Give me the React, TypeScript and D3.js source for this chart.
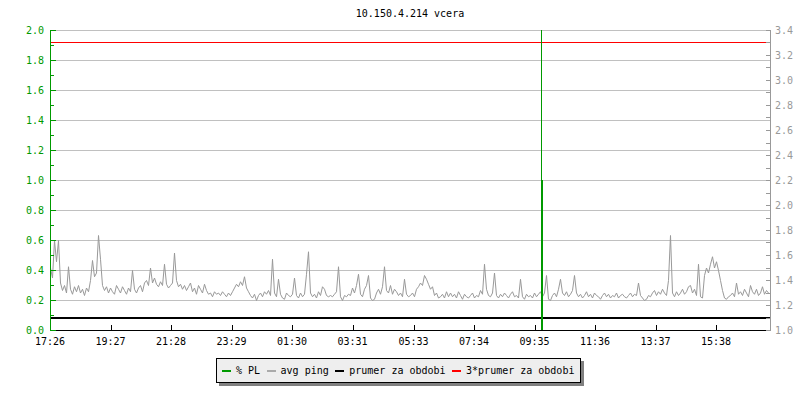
import React from "react";
import * as d3 from "d3";

// ---------- data ----------
const chartTitle = "10.150.4.214 vcera";
const startTime = "17:26";
const sampleMinutes = 4;
const spanMinutes = 1440;

// avg ping (ms), one value per 4 minutes starting 17:26
const pingValues: number[] = [
  1.50,1.42,1.72,1.55,1.72,1.38,1.32,1.36,1.30,1.51,1.33,1.29,1.35,1.31,1.36,1.30,1.33,1.28,1.34,1.31,
  1.40,1.56,1.43,1.46,1.76,1.57,1.36,1.32,1.35,1.30,1.34,1.31,1.29,1.36,1.33,1.30,1.35,1.32,1.29,1.34,
  1.31,1.48,1.33,1.30,1.34,1.36,1.31,1.38,1.40,1.36,1.50,1.38,1.42,1.37,1.35,1.39,1.36,1.53,1.37,1.34,
  1.36,1.38,1.62,1.40,1.35,1.37,1.33,1.36,1.32,1.35,1.38,1.31,1.34,1.29,1.36,1.33,1.30,1.37,1.32,1.29,
  1.30,1.27,1.31,1.29,1.30,1.28,1.31,1.29,1.27,1.30,1.28,1.31,1.34,1.37,1.35,1.39,1.36,1.43,1.34,1.31,
  1.28,1.26,1.29,1.24,1.28,1.30,1.27,1.31,1.29,1.32,1.28,1.57,1.30,1.27,1.41,1.29,1.26,1.25,1.30,1.28,
  1.27,1.29,1.42,1.28,1.26,1.30,1.27,1.29,1.45,1.63,1.30,1.27,1.29,1.26,1.31,1.28,1.35,1.33,1.28,1.27,
  1.28,1.27,1.29,1.31,1.51,1.27,1.24,1.28,1.27,1.29,1.28,1.34,1.30,1.36,1.45,1.29,1.27,1.33,1.36,1.44,
  1.26,1.24,1.25,1.30,1.33,1.29,1.35,1.51,1.32,1.30,1.36,1.29,1.33,1.31,1.28,1.30,1.27,1.41,1.29,1.27,
  1.28,1.30,1.27,1.33,1.35,1.38,1.36,1.44,1.41,1.37,1.33,1.35,1.28,1.30,1.26,1.27,1.29,1.26,1.31,1.27,
  1.30,1.27,1.29,1.26,1.31,1.28,1.25,1.29,1.27,1.26,1.28,1.30,1.26,1.28,1.27,1.32,1.29,1.53,1.33,1.28,
  1.27,1.30,1.46,1.28,1.26,1.29,1.27,1.30,1.28,1.26,1.29,1.31,1.27,1.28,1.26,1.41,1.27,1.25,1.29,1.27,
  1.28,1.26,1.30,1.27,1.29,1.31,1.27,1.30,1.44,1.25,1.24,1.28,1.30,1.27,1.33,1.41,1.30,1.28,1.31,1.27,
  1.29,1.32,1.44,1.30,1.27,1.29,1.26,1.28,1.31,1.27,1.29,1.26,1.30,1.28,1.27,1.25,1.28,1.30,1.27,1.29,
  1.26,1.28,1.27,1.30,1.26,1.28,1.29,1.27,1.26,1.28,1.30,1.27,1.29,1.28,1.38,1.28,1.26,1.24,1.25,1.28,
  1.27,1.30,1.32,1.28,1.31,1.29,1.33,1.30,1.28,1.40,1.76,1.30,1.27,1.31,1.28,1.30,1.33,1.29,1.31,1.35,
  1.36,1.30,1.33,1.28,1.53,1.27,1.26,1.44,1.50,1.46,1.53,1.59,1.50,1.55,1.48,1.40,1.32,1.26,1.25,1.27,
  1.28,1.30,1.27,1.38,1.29,1.31,1.28,1.33,1.30,1.27,1.36,1.31,1.29,1.33,1.28,1.30,1.35,1.29,1.32,1.30,
];

// packet loss events (%)
const plTimes = ["09:48"];
const plValues = [1.0];

const avgPing = 1.1; // prumer za obdobi
const avgMultiplier = 3;

const timeTickLabels = ["17:26","19:27","21:28","23:29","01:30","03:31","05:33","07:34","09:35","11:36","13:37","15:38"];
const leftTicks = [0, 0.2, 0.4, 0.6, 0.8, 1.0, 1.2, 1.4, 1.6, 1.8, 2.0];
const rightTicks = [1.0, 1.2, 1.4, 1.6, 1.8, 2.0, 2.2, 2.4, 2.6, 2.8, 3.0, 3.2, 3.4];

const legendItems = ["% PL", "avg ping", "prumer za obdobi", "3*prumer za obdobi"];
const legendColors = ["#009900", "#aaaaaa", "#000000", "#ff0000"];

// ---------- helpers ----------
const toMin = (s: string) => {
  const [h, m] = s.split(":").map(Number);
  return h * 60 + m;
};
const offsetMin = (s: string) => (toMin(s) - toMin(startTime) + 1440) % 1440;

const FONT = "'DejaVu Sans Mono', monospace";
const GREEN = "#009900";

export default function App() {
  const left = 50, right = 770, top = 30, bottom = 330;
  const x = d3.scaleLinear().domain([0, spanMinutes]).range([left, right]);
  const yL = d3.scaleLinear().domain([0, 2]).range([bottom, top]);
  const yR = d3.scaleLinear().domain([1.0, 3.4]).range([bottom, top]);

  const pingData = pingValues.map((v, i) => ({ t: i * sampleMinutes, v }));
  const pingLine = d3
    .line<{ t: number; v: number }>()
    .x((d) => x(d.t))
    .y((d) => yR(d.v))
    .curve(d3.curveLinear)(pingData) as string;

  const leftMinor = d3.range(0, 2.0001, 0.1);
  const rightMinor = d3.range(1.0, 3.4001, 0.1);

  const charW = 6.02;
  let lx = 222;
  const legendLayout = legendItems.map((label) => {
    const m = lx;
    const tx = m + 14;
    lx = tx + label.length * charW + 6.5;
    return { label, m, tx };
  });

  return (
    <svg
      width={800}
      height={400}
      style={{ position: "absolute", left: 0, top: 0, background: "#fff" }}
      fontFamily={FONT}
      fontSize={10}
    >
      <rect x={0} y={0} width={800} height={400} fill="#fff" />
      <text x={410} y={17} textAnchor="middle" fill="#000">
        {chartTitle}
      </text>

      <g shapeRendering="crispEdges">
        {/* gridlines */}
        {leftTicks.slice(1).map((v) => (
          <line key={"g" + v} x1={left} x2={right} y1={Math.round(yL(v)) + 0.5} y2={Math.round(yL(v)) + 0.5} stroke="#c0c0c0" />
        ))}
      </g>

      {/* avg ping */}
      <path d={pingLine} fill="none" stroke="#999999" strokeWidth={1} transform="translate(0.5,0.5)" />

      <g shapeRendering="crispEdges">
        {/* average lines */}
        <line x1={left} x2={right} y1={yR(avgPing)} y2={yR(avgPing)} stroke="#000" strokeWidth={2} />
        <line x1={left} x2={right} y1={yR(avgPing * avgMultiplier)} y2={yR(avgPing * avgMultiplier)} stroke="#ff0000" strokeWidth={1} />

        {/* packet loss */}
        {plTimes.map((t, i) => {
          const t0 = offsetMin(t);
          const x0 = x(t0);
          const x1 = x(t0 + sampleMinutes);
          return (
            <g key={"pl" + i}>
              <line x1={x0 + 0.5} x2={x0 + 0.5} y1={top} y2={bottom} stroke={GREEN} />
              <rect x={x0} width={x1 - x0} y={yL(plValues[i])} height={yL(0) - yL(plValues[i])} fill={GREEN} />
            </g>
          );
        })}

        {/* bottom axis */}
        <line x1={left} x2={right} y1={bottom + 0.5} y2={bottom + 0.5} stroke="#000" />
        {timeTickLabels.map((lab) => {
          const px = Math.round(x(offsetMin(lab))) + 0.5;
          return (
            <g key={"xt" + lab}>
              <line x1={px} x2={px} y1={bottom - 5} y2={bottom} stroke="#000" />
            </g>
          );
        })}

        {/* left axis */}
        <line x1={left + 0.5} x2={left + 0.5} y1={top} y2={bottom + 1} stroke={GREEN} />
        {leftMinor.map((v, i) => {
          const py = Math.round(yL(v)) + 0.5;
          return <line key={"lt" + i} x1={left} x2={left + (i % 2 === 0 ? 6 : 4)} y1={py} y2={py} stroke={GREEN} />;
        })}

        {/* right axis */}
        <line x1={right + 0.5} x2={right + 0.5} y1={top} y2={bottom + 1} stroke="#999999" />
        {rightMinor.map((v, i) => {
          const py = Math.round(yR(v)) + 0.5;
          return <line key={"rt" + i} x1={right - 4} x2={right + 1} y1={py} y2={py} stroke="#999999" />;
        })}
      </g>

      {/* axis labels */}
      {timeTickLabels.map((lab) => (
        <text key={"xl" + lab} x={x(offsetMin(lab))} y={345} textAnchor="middle" fill="#000">
          {lab}
        </text>
      ))}
      {leftTicks.map((v) => (
        <text key={"ll" + v} x={44} y={yL(v) + 4} textAnchor="end" fill={GREEN}>
          {v.toFixed(1)}
        </text>
      ))}
      {rightTicks.map((v) => (
        <text key={"rl" + v} x={775} y={yR(v) + 4} textAnchor="start" fill="#999999">
          {v.toFixed(1)}
        </text>
      ))}

      {/* legend */}
      <g shapeRendering="crispEdges">
        <rect x={219} y={361} width={365} height={25} fill="#808080" />
        <rect x={216.5} y={358.5} width={364} height={24} fill="#eeeeee" stroke="#000" />
        {legendLayout.map((it, i) => (
          <g key={"lg" + i}>
            <rect x={it.m} y={370} width={9} height={2} fill={legendColors[i]} />
            <text x={it.tx} y={374} fill="#000">
              {it.label}
            </text>
          </g>
        ))}
      </g>
    </svg>
  );
}
